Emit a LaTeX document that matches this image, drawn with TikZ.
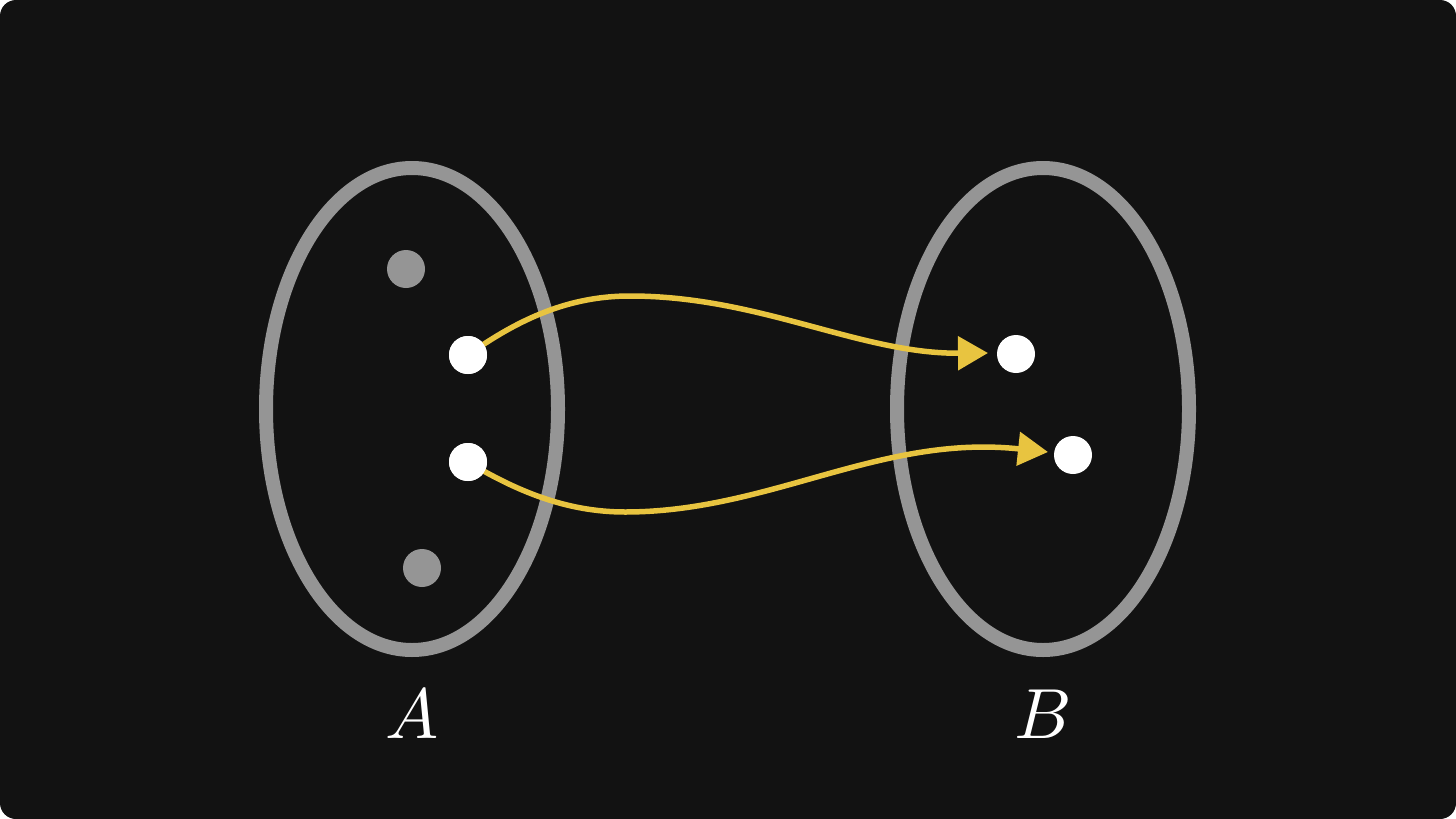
\documentclass[tikz,border=0pt]{standalone}
\usetikzlibrary{arrows.meta}
\definecolor{bg}{HTML}{121212}
\definecolor{ring}{HTML}{959595}
\definecolor{yel}{HTML}{E8C440}
\begin{document}
\begin{tikzpicture}[x=1pt,y=-1pt,
  setring/.style={draw=ring,line width=14pt},
  whitedot/.style={circle,fill=white,inner sep=0pt,minimum size=38pt},
  greydot/.style={circle,fill=ring,inner sep=0pt,minimum size=38pt},
  maparrow/.style={draw=yel,line width=5.5pt,line join=round,-{Triangle[length=30pt,width=33pt]}},
  setlabel/.style={text=white,inner sep=0pt}]
\useasboundingbox (0,0) rectangle (1456,819);
\fill[white] (0,0) rectangle (1456,819);
\fill[bg,rounded corners=16pt] (0,0) rectangle (1456,819);
\draw[setring] (412,409) ellipse [x radius=146, y radius=241];
\draw[setring] (1043,409) ellipse [x radius=146, y radius=241];
\node[greydot] (a1) at (406,269) {};
\node[whitedot] (a2) at (468,355) {};
\node[whitedot] (a3) at (468,462) {};
\node[greydot] (a4) at (422,568) {};
\node[whitedot] (b1) at (1016,354) {};
\node[whitedot] (b2) at (1073,455) {};
\coordinate (p1) at (630,296);
\coordinate (t1) at (988,353);
\coordinate (p2) at (625,512);
\coordinate (t2) at (1048,452);
\draw[maparrow] (a2.center) .. controls (520,318) and (570,296) .. (p1)
  .. controls (760,296) and (860,354) .. (t1);
\draw[maparrow] (a3.center) .. controls (515,490) and (565,512) .. (p2)
  .. controls (770,512) and (880,434) .. (t2);
\node[whitedot] at (a2) {};
\node[whitedot] at (a3) {};
\node[setlabel] (la) at (412,714) {\scalebox{7.1}{$A$}};
\node[setlabel] (lb) at (1043,714) {\scalebox{7.1}{$B$}};
\end{tikzpicture}
\end{document}
